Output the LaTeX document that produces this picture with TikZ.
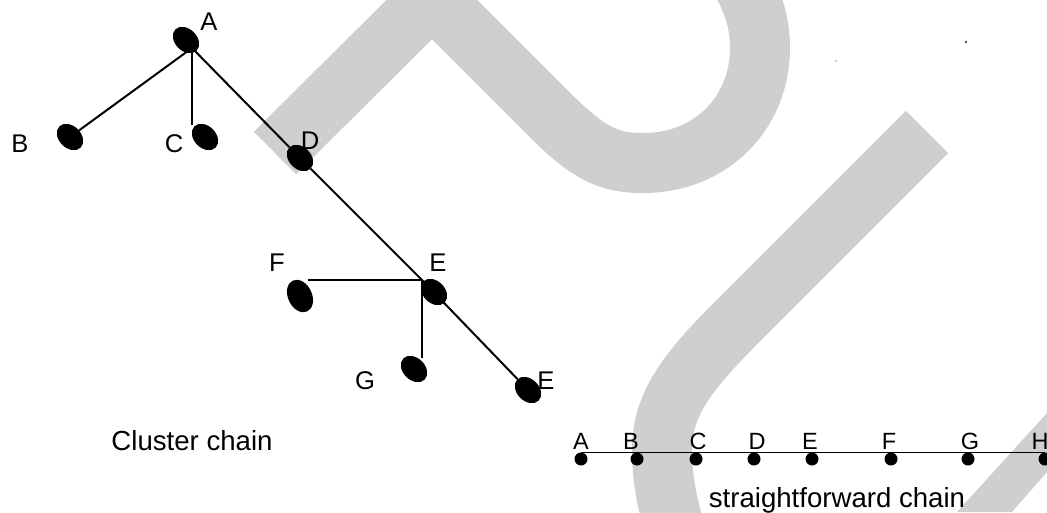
\documentclass[tikz,border=0pt]{standalone}
\usepackage{fontspec}
\setmainfont{Liberation Sans}
\usetikzlibrary{shapes.geometric}
\pgfdeclarelayer{wm}
\pgfdeclarelayer{edges}
\pgfsetlayers{wm,edges,main}
\definecolor{wmgray}{RGB}{207,207,207}
\begin{document}
\begin{tikzpicture}[x=1pt,y=-1pt,
  blob/.style={ellipse, fill=black, inner sep=0pt, minimum width=30pt, minimum height=22pt, rotate=-45},
  lbl/.style={inner sep=0pt, font=\fontsize{25.6}{30}\selectfont},
  slbl/.style={inner sep=0pt, font=\fontsize{23.5}{28}\selectfont},
  captxt/.style={inner sep=0pt, font=\fontsize{27.6}{33}\selectfont},
  dot/.style={circle, fill=black, inner sep=0pt, minimum size=13pt},
  conn/.style={line width=2pt},
  wmband/.style={line width=60pt, draw=wmgray}
]
\useasboundingbox (0,0) rectangle (1047,512);

% watermark
\begin{pgfonlayer}{wm}
\clip (0,0) rectangle (1047,512);
\draw[wmband, line join=miter] (275,153) -- (432,-3) -- (550,115)
  .. controls (590,155) and (610,163) .. (643,163)
  .. controls (712,163) and (760,112) .. (760,48)
  .. controls (760,20) and (752,0) .. (738,-25);
\draw[wmband] (927,132) -- (740,319)
  .. controls (690,369) and (662,402) .. (662,450)
  .. controls (662,482) and (668,505) .. (676,535);
\fill[wmgray] (1047,413) -- (957,512) -- (1012,512) -- (1047,472) -- cycle;
\end{pgfonlayer}

% specks
\fill[black!70] (966,42) circle[radius=1.3pt];
\fill[black!40] (836,61) circle[radius=0.9pt];

% cluster chain
\node[blob] (A) at (186,40) {};
\node[blob] (B) at (70,137) {};
\node[blob] (C) at (205,137) {};
\node[blob] (D) at (300,158) {};
\node[blob] (E) at (434,292) {};
\node[blob, minimum width=34pt, minimum height=24pt, rotate=-20] (F) at (300,296) {};
\node[blob] (G) at (414,369) {};
\node[blob] (H) at (528,390) {};

\coordinate (Ahub) at (192,48);
\coordinate (Cend) at (192,125);
\coordinate (Ehub) at (422,280);
\coordinate (Fend) at (308,280);
\coordinate (Gend) at (422,358);

\begin{pgfonlayer}{edges}
\draw[conn] (Ahub) -- (B);
\draw[conn] (Ahub) -- (Cend);
\draw[conn] (Ahub) -- (D) -- (Ehub) -- (H);
\draw[conn] (Ehub) -- (Fend);
\draw[conn] (Ehub) -- (Gend);
\end{pgfonlayer}

\node[lbl] (lA) at (209,22) {A};
\node[lbl] (lB) at (20,144) {B};
\node[lbl] (lC) at (174,144) {C};
\node[lbl] (lD) at (310,141) {D};
\node[lbl] (lE) at (438,263) {E};
\node[lbl] (lF) at (277,263) {F};
\node[lbl] (lG) at (365,381) {G};
\node[lbl] (lH) at (546,381) {E};

\node[captxt] (cap1) at (192,441) {Cluster chain};

% straightforward chain
\node[dot] (sA) at (581,459) {};
\node[dot] (sB) at (637,459) {};
\node[dot] (sC) at (696,459) {};
\node[dot] (sD) at (754,459) {};
\node[dot] (sE) at (812,459) {};
\node[dot] (sF) at (891,459) {};
\node[dot] (sG) at (968,459) {};
\node[dot] (sH) at (1045,459) {};
\begin{pgfonlayer}{edges}
\draw[line width=1.6pt] (sA.north) -- (sH.north);
\end{pgfonlayer}

\node[slbl] at (581,441) {A};
\node[slbl] at (631,441) {B};
\node[slbl] at (698,441) {C};
\node[slbl] at (757,441) {D};
\node[slbl] at (810,441) {E};
\node[slbl] at (889,441) {F};
\node[slbl] at (970,441) {G};
\node[slbl] at (1040,441) {H};

\node[captxt, anchor=base] (cap2) at (837,507) {straightforward chain};
\end{tikzpicture}
\end{document}
